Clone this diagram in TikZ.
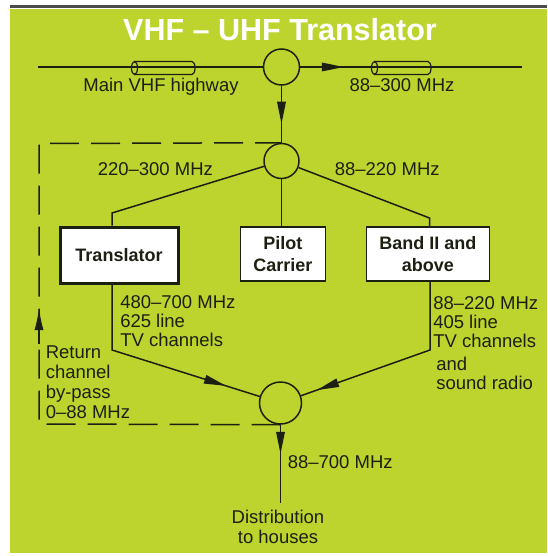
\documentclass[tikz,border=0pt]{standalone}
\usepackage{fontspec}
\setmainfont{Liberation Sans}
\usetikzlibrary{arrows.meta,decorations.markings}

\definecolor{bggreen}{RGB}{190,212,46}
\definecolor{ink}{RGB}{28,32,18}

\tikzset{
    midarrow/.style={postaction={decorate},
        decoration={markings, mark=at position #1 with {\fill [ink] (0pt,0pt) -- (-22pt,4.5pt) -- (-22pt,-4.5pt) -- cycle;}}},
    junction/.style={circle, draw=ink, line width=1.5pt, inner sep=0pt},
    box/.style={draw=ink, fill=white, line width=1.5pt, minimum height=54pt, inner sep=0pt,
        align=center, text=ink, font=\fontsize{18}{22}\selectfont\bfseries},
    lbl/.style={inner sep=0pt, align=left, text=ink, font=\fontsize{18.5}{19}\selectfont},
    bypass/.style={dash pattern=on 29pt off 12pt},
}

\begin{document}
\begin{tikzpicture}[x=1pt, y=-1pt, line width=1.5pt, draw=ink]
    \useasboundingbox (0,0) rectangle (547,556);
    \fill [white] (0,0) rectangle (547,556);
    \fill [bggreen] (10,9) rectangle (547,553);
    \draw [gray!60!black, line width=2.5pt] (10,6.5) -- (547,6.5);

    \node [font=\fontsize{30.5}{31}\selectfont\bfseries, text=white] (title) at (280,30) {VHF – UHF Translator};

    % junctions
    \node [junction, minimum size=36pt] (split) at (281.5,67) {};
    \node [junction, minimum size=35pt] (filter) at (281.5,161) {};
    \node [junction, minimum size=42pt] (combiner) at (280.5,403) {};

    % boxes
    \node [box, line width=3pt, minimum width=118pt, minimum height=56pt] (trans) at (119,255) {Translator};
    \node [box, minimum width=85pt] (pilot) at (282.8,254) {Pilot\\Carrier};
    \node [box, minimum width=123pt] (band) at (427.8,254) {Band II and\\above};

    \coordinate (hwin) at (38,67);
    \coordinate (hwout) at (521.5,67);
    \coordinate (lbend) at (112,213);
    \coordinate (rbend) at (429.5,218);
    \coordinate (ldown) at (112,350);
    \coordinate (rdown) at (430,350);
    \coordinate (houses) at (280.5,503);
    \coordinate (bpbot) at (39,424);
    \coordinate (bptop) at (39,143.5);
    \coordinate (bpstub) at (39,344);
    \coordinate (bptip) at (39,308);

    % main highway
    \draw (hwin) -- (split);
    \draw [midarrow=43.5pt] (split) -- (hwout);
    \draw [midarrow=38pt] (split) -- (filter);

    % coax cylinders
    \draw [line width=1.2pt] (134.5,61.5) -- (192,61.5) arc [start angle=-90, end angle=90, x radius=3, y radius=6.5] -- (134.5,74.5);
    \draw [line width=1.2pt] (134.5,68) ellipse [x radius=3, y radius=6.5];
    \draw [line width=1.2pt] (374.5,61.5) -- (428,61.5) arc [start angle=-90, end angle=90, x radius=3, y radius=6.5] -- (374.5,74.5);
    \draw [line width=1.2pt] (374.5,68) ellipse [x radius=3, y radius=6.5];

    % branches
    \draw (filter) -- (lbend) -- (lbend |- trans.north);
    \draw (filter) -- (filter |- pilot.north);
    \draw (filter) -- (rbend) -- (rbend |- band.north);
    \draw [midarrow=185pt] (trans.south -| ldown) -- (ldown) -- (combiner);
    \draw [midarrow=188pt] (band.south -| rdown) -- (rdown) -- (combiner);
    \draw [midarrow=29pt] (combiner) -- (houses);

    % return channel by-pass
    \draw [bypass] (combiner.south) -- (bpbot) -- (bptop) -- (filter.north);
    \draw [-{Latex[length=22pt,width=9pt]}] (bpstub) -- (bptip);

    % labels (multi-line ones sit on their last line)
    \node [lbl, anchor=base] (hwlabel) at (161,92) {Main VHF highway};
    \node [lbl, anchor=base] (outlabel) at (402,92) {88–300 MHz};
    \node [lbl, anchor=base west] (uhfin) at (97,175.5) {220–300 MHz};
    \node [lbl, anchor=base west] (vhfin) at (334,175.5) {88–220 MHz};
    \node [lbl, anchor=base west] (uhfout) at (119.5,346) {480–700 MHz\\625 line\\TV channels};
    \node [lbl, anchor=base west] (vhfout) at (432.5,389) {88–220 MHz\\405 line\\TV channels\\[4pt]\hspace*{3pt}and\\\hspace*{3pt}sound radio};
    \node [lbl, anchor=base west, font=\fontsize{18.5}{20}\selectfont] (retlabel) at (45,418) {Return\\channel\\by-pass\\0–88 MHz};
    \node [lbl, anchor=base west] (alllabel) at (287,468.5) {88–700 MHz};
    \node [lbl, anchor=base, align=center, font=\fontsize{18.5}{19.5}\selectfont] (distlabel) at (278,543) {Distribution\\to houses};
\end{tikzpicture}
\end{document}
